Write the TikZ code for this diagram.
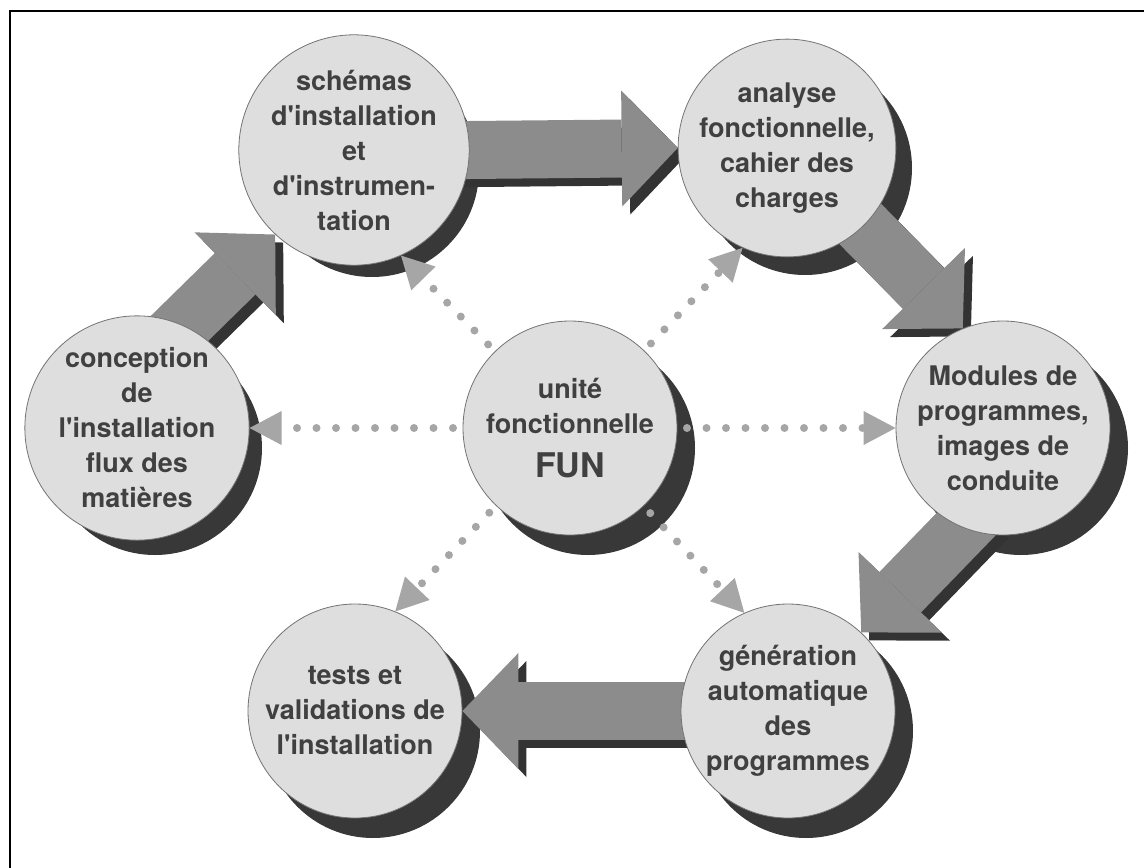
\documentclass[tikz,border=0pt]{standalone}
\usepackage{fontspec}
\setsansfont{TeX Gyre Heros}
\usetikzlibrary{arrows.meta}
\pgfdeclarelayer{shadows}
\pgfdeclarelayer{links}
\pgfsetlayers{shadows,links,main}

\tikzset{
  bubble/.style={circle,minimum size=214pt,inner sep=0pt,fill=black!13,draw=black!55,line width=0.8pt,
    text=black!75,align=center,font=\sffamily\bfseries\fontsize{27}{35}\selectfont},
  bubbleshade/.style={fill=black!78},
  flow/.style={line width=58pt,draw=black!45,shorten <=-24pt,
    -{Triangle[length=56pt,width=116pt,line width=0pt]}},
  flowshade/.style={flow,draw=black!80},
  link/.style={line width=8pt,draw=black!35,line cap=round,dash pattern=on 0pt off 19.5pt,
    -{Triangle[length=32pt,width=34pt,line width=0pt]}},
}

\begin{document}
\begin{tikzpicture}[x=1pt,y=-1pt]
\useasboundingbox (0,0) rectangle (1144,868);
\draw[line width=2.5pt] (10,868) -- (10,11) -- (1144,11);

\node[bubble] (schemas) at (354,150){sch\'emas\\d\textquotesingle installation\\et\\d\textquotesingle instrumen-\\tation};
\node[bubble] (analyse) at (787,148){analyse\\fonctionnelle,\\cahier des\\charges};
\node[bubble] (conception) at (137,428){conception\\de\\l\textquotesingle installation\\flux des\\mati\`eres};
\node[bubble] (fun) at (570,428){unit\'e\\fonctionnelle\\[9pt]{\fontsize{34}{40}\selectfont FUN}};
\node[bubble] (modules) at (1003,428){Modules de\\programmes,\\images de\\conduite};
\node[bubble] (generation) at (788,711){g\'en\'eration\\automatique\\des\\programmes};
\node[bubble] (tests) at (355,711){tests et\\validations de\\l\textquotesingle installation};

\begin{pgfonlayer}{shadows}
\foreach \n in {schemas,analyse,conception,fun,modules,generation,tests}
  \fill[bubbleshade] ([shift={(18,20)}]\n.center) circle[radius=107pt];
\end{pgfonlayer}

\begin{pgfonlayer}{links}
% dotted links from the functional unit
\draw[link] (fun.center) -- (conception.0);
\draw[link] (fun.center) -- (modules.180);
\draw[link] (fun.center) -- (schemas.294);
\draw[link] (fun.center) -- (analyse.246);
\draw[link] (fun.center) -- (tests.68);
\draw[link] (fun.center) -- (generation.114);
% big arrows of the cycle
\draw[flowshade] ([shift={(8,8)}]conception.66) -- ([shift={(8,8)}]schemas.227);
\draw[flow] (conception.66) -- (schemas.227);
\draw[flowshade] ([shift={(8,8)}]schemas.0) -- ([shift={(8,8)}]analyse.180);
\draw[flow] (schemas.0) -- (analyse.180);
\draw[flowshade] ([shift={(8,8)}]analyse.314) -- ([shift={(8,8)}]modules.112);
\draw[flow] (analyse.314) -- (modules.112);
\draw[flowshade] ([shift={(8,8)}]modules.248) -- ([shift={(8,8)}]generation.47);
\draw[flow] (modules.248) -- (generation.47);
\draw[flowshade] ([shift={(8,8)}]generation.180) -- ([shift={(8,8)}]tests.0);
\draw[flow] (generation.180) -- (tests.0);
\end{pgfonlayer}

\end{tikzpicture}
\end{document}
